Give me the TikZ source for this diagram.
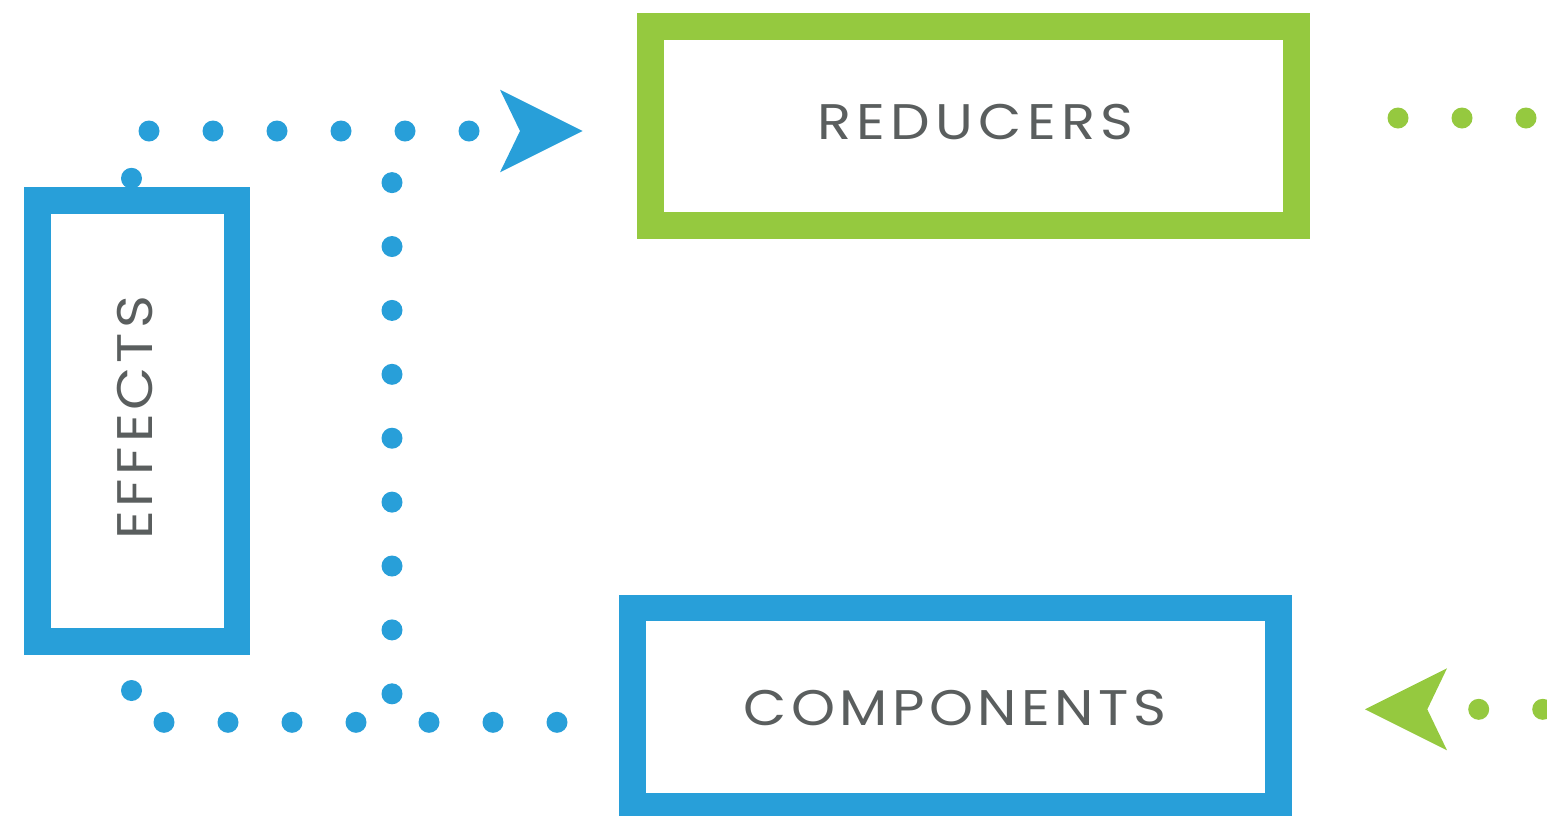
\documentclass[tikz,border=0pt]{standalone}
\usepackage{fontspec}
\newfontfamily\labfontR[LetterSpace=9.6]{Poppins}
\newfontfamily\labfontC[LetterSpace=8]{Poppins}
\newfontfamily\labfontE[LetterSpace=7]{Poppins}
\newcommand{\widetext}[1]{\scalebox{1.12}[1]{#1}}
\definecolor{bblue}{HTML}{289FD9}
\definecolor{bgreen}{HTML}{95C93F}
\definecolor{tgray}{HTML}{5A5E5E}
\tikzset{
  box/.style={draw=#1, line width=26.7pt, minimum width=0pt, minimum height=0pt, inner sep=0pt, outer sep=0pt},
  lab/.style={text=tgray, font=#1\fontsize{50}{60}\selectfont, inner sep=0pt, anchor=base},
  bdot/.style={fill=bblue},
  gdot/.style={fill=bgreen}
}
\begin{document}
\begin{tikzpicture}[x=1pt,y=-1pt]
\useasboundingbox (0,0) rectangle (1547,815);
% boxes
\node[box=bgreen, minimum width=645.8pt, minimum height=198.8pt] (reducers) at (973.6,126.1) {};
\node[box=bblue, minimum width=646.3pt, minimum height=198.3pt] (components) at (955.3,707.2) {};
\node[box=bblue, minimum width=199.3pt, minimum height=440.8pt] (effects) at (137.3,420.8) {};
% labels
\node[lab=\labfontR] (treducers) at (975.5,139.3) {\widetext{REDUCERS}};
\node[lab=\labfontC] (tcomponents) at (955,725) {\widetext{COMPONENTS}};
\node[lab=\labfontE, rotate=90] (teffects) at (152.5,418) {\widetext{EFFECTS}};
% blue dotted connectors
\foreach \x in {149,213,277,341,405,469} \fill[bdot] (\x,131) circle (10.5);
\foreach \i in {0,...,8} \fill[bdot] (392,182.6+63.9*\i) circle (10.5);
\foreach \x in {164,228,292,356,429,493,557} \fill[bdot] (\x,722.3) circle (10.5);
\fill[bdot] (131.5,178.3) circle (10.5);
\fill[bdot] (131.5,690.5) circle (10.5);
% blue arrowhead
\coordinate (btip) at (582.7,131);
\fill[bblue] (500,89.7) -- (btip) -- (500,172.3) -- (520,131) -- cycle;
% green dotted connectors
\foreach \x in {1398,1462,1526} \fill[gdot] (\x,118) circle (10.5);
\foreach \x in {1478.7,1542.7} \fill[gdot] (\x,709.3) circle (10.5);
% green arrowhead
\coordinate (gtip) at (1365,709.3);
\fill[bgreen] (1447,668.3) -- (gtip) -- (1447,750.3) -- (1427.3,709.3) -- cycle;
\end{tikzpicture}
\end{document}
